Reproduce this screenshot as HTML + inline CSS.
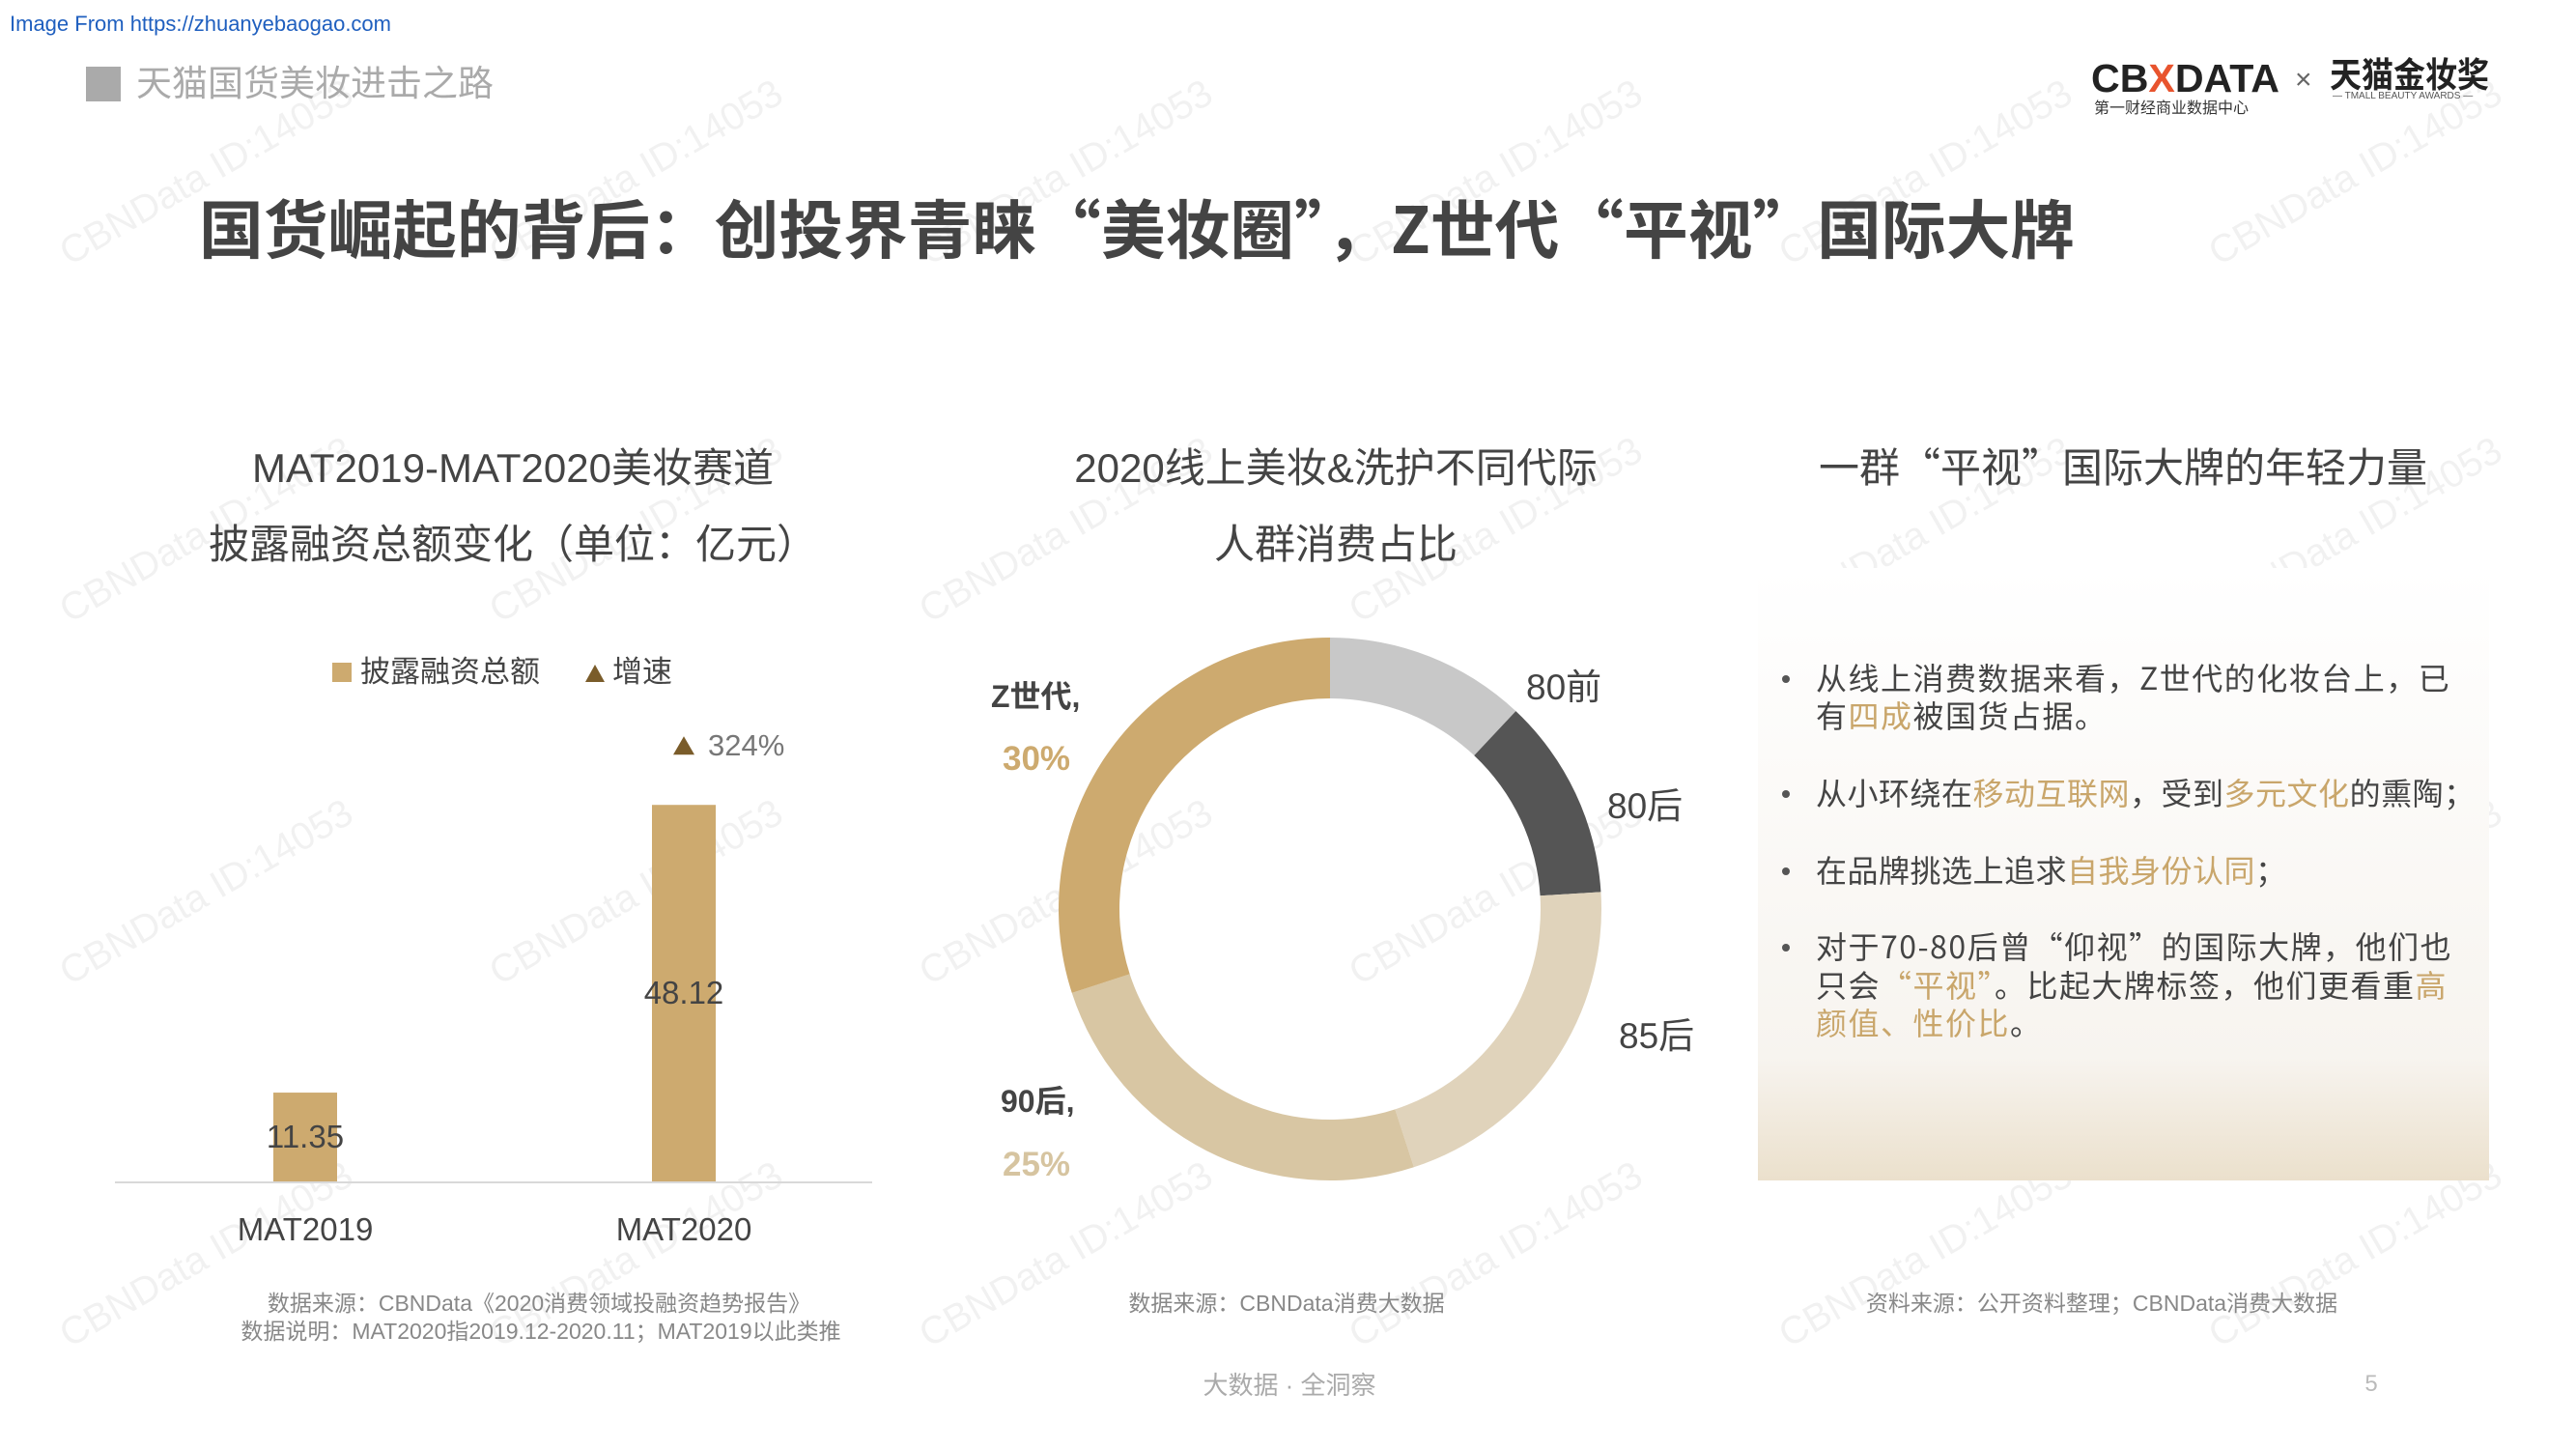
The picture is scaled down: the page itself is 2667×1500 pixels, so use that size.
<!DOCTYPE html>
<html><head><meta charset="utf-8">
<style>
html,body{margin:0;padding:0;background:#fff;}
svg{display:block;font-family:"Liberation Sans","Noto Sans CJK SC",sans-serif;}
.cjk{font-family:"Noto Sans CJK SC","Liberation Sans",sans-serif;}
</style></head>
<body>
<svg id="page" width="2667" height="1500" viewBox="0 0 2667 1500">
<defs>
<linearGradient id="panelGrad" x1="0" y1="0" x2="0" y2="1">
<stop offset="0" stop-color="#ffffff"/>
<stop offset="0.8" stop-color="#f7f4ef"/>
<stop offset="1" stop-color="#ebe0cc"/>
</linearGradient>
</defs>
<g id="watermarks"></g>

<text x="10" y="32" font-size="22" fill="#1f5fbf">Image From https://zhuanyebaogao.com</text>
<rect x="89" y="69" width="36" height="36" fill="#aaaaaa"/>
<text x="141" y="99" font-size="37" fill="#aaaaaa">天猫国货美妆进击之路</text>

<g>
<text x="2165" y="95" font-size="41" font-weight="bold" fill="#222" textLength="195" lengthAdjust="spacingAndGlyphs">CB<tspan fill="#e8542e">X</tspan>DATA</text>
<text x="2168" y="117" font-size="16" fill="#333">第一财经商业数据中心</text>
<text x="2376" y="92" font-size="30" fill="#666">×</text>
<text x="2412" y="90" font-size="36" font-weight="bold" fill="#222" textLength="165" lengthAdjust="spacingAndGlyphs">天猫金妆奖</text>
<text x="2415" y="102" font-size="10" fill="#555">— TMALL BEAUTY AWARDS —</text>
</g>

<text class="cjk" x="206" y="262" font-size="66" font-weight="bold" fill="#444" textLength="1942" lengthAdjust="spacingAndGlyphs">国货崛起的背后：创投界青睐“美妆圈”，Z世代“平视”国际大牌</text>

<g font-size="42" fill="#444" text-anchor="middle">
<text x="531" y="499">MAT2019-MAT2020美妆赛道</text>
<text x="531" y="578">披露融资总额变化（单位：亿元）</text>
<text x="1383" y="499">2020线上美妆&amp;洗护不同代际</text>
<text x="1383" y="578">人群消费占比</text>
<text class="cjk" x="2198" y="499">一群“平视”国际大牌的年轻力量</text>
</g>

<!-- bar chart -->
<g id="barChart">
<g>
<rect x="344" y="686" width="20" height="20" fill="#cdaa6f"/>
<text x="373" y="706" font-size="31" fill="#444">披露融资总额</text>
<path d="M606 706 L616 688 L626 706 Z" fill="#7a5c2a"/>
<text x="634" y="706" font-size="31" fill="#444">增速</text>
</g>
<line x1="119" y1="1224" x2="903" y2="1224" stroke="#d9d9d9" stroke-width="2"/>
<g id="bars"></g>
</g>

<!-- donut -->
<g id="donut"></g>
<g font-size="32">
<text x="1026" y="732" font-weight="bold" fill="#444">Z世代,</text>
<text x="1038" y="797" font-weight="bold" fill="#cdaa6f" font-size="35">30%</text>
<text x="1036" y="1151" font-weight="bold" fill="#444">90后,</text>
<text x="1038" y="1217" font-weight="bold" fill="#d6c4a0" font-size="35">25%</text>
<text x="1580" y="724" font-size="37" fill="#444">80前</text>
<text x="1664" y="847" font-size="37" fill="#444">80后</text>
<text x="1676" y="1085" font-size="37" fill="#444">85后</text>
</g>

<!-- right panel -->
<rect x="1820" y="588" width="757" height="634" fill="url(#panelGrad)"/>
<g class="cjk" font-size="32" fill="#444">
<g>
<circle cx="1849" cy="703" r="4" fill="#555"/>
<text x="1880" y="714" letter-spacing="1.5">从线上消费数据来看，Z世代的化妆台上，已</text>
<text x="1880" y="753" letter-spacing="1.5">有<tspan fill="#c9a66b">四成</tspan>被国货占据。</text>
</g>
<g>
<circle cx="1849" cy="822" r="4" fill="#555"/>
<text x="1880" y="833" letter-spacing="0.5">从小环绕在<tspan fill="#c9a66b">移动互联网</tspan>，受到<tspan fill="#c9a66b">多元文化</tspan>的熏陶；</text>
</g>
<g>
<circle cx="1849" cy="902" r="4" fill="#555"/>
<text x="1880" y="913" letter-spacing="0.5">在品牌挑选上追求<tspan fill="#c9a66b">自我身份认同</tspan>；</text>
</g>
<g>
<circle cx="1849" cy="981" r="4" fill="#555"/>
<text x="1880" y="992" letter-spacing="1.5">对于70-80后曾“仰视”的国际大牌，他们也</text>
<text x="1880" y="1032" letter-spacing="1.5">只会<tspan fill="#c9a66b">“平视”</tspan>。比起大牌标签，他们更看重<tspan fill="#c9a66b">高</tspan></text>
<text x="1880" y="1071" letter-spacing="1.5" fill="#c9a66b">颜值、性价比<tspan fill="#444">。</tspan></text>
</g>
</g>

<g font-size="23" fill="#888" text-anchor="middle">
<text x="558" y="1357">数据来源：CBNData《2020消费领域投融资趋势报告》</text>
<text x="560" y="1386">数据说明：MAT2020指2019.12-2020.11；MAT2019以此类推</text>
<text x="1332" y="1357">数据来源：CBNData消费大数据</text>
<text x="2176" y="1357">资料来源：公开资料整理；CBNData消费大数据</text>
</g>
<text x="1335" y="1443" font-size="26" fill="#aaa" text-anchor="middle">大数据 · 全洞察</text>
<text x="2455" y="1440" font-size="24" fill="#bbb" text-anchor="middle">5</text>
</svg>

<script>
var barCategories = ["MAT2019", "MAT2020"];
var barValues = [11.35, 48.12];
var barValueLabels = ["11.35", "48.12"];
var growthLabels = ["", "324%"];
var donutCategories = ["80前", "80后", "85后", "90后", "Z世代"];
var donutValues = [12, 12, 21, 25, 30];
var donutColors = ["#c8c8c8", "#555555", "#e0d3bb", "#d8c6a3", "#cdaa6f"];

var NS = "http://www.w3.org/2000/svg";
function mk(tag, attrs, parent){
  var e = document.createElementNS(NS, tag);
  for (var k in attrs) { e.setAttribute(k, String(attrs[k])); }
  parent.appendChild(e);
  return e;
}

// watermarks
(function(){
  var g = document.getElementById('watermarks');
  var xs = [220,665,1110,1555,2000,2445], ys = [190,560,935,1310];
  for (var i = 0; i < xs.length; i++) for (var j = 0; j < ys.length; j++) {
    var t = mk('text', {x: xs[i], y: ys[j], 'font-size': 40, 'fill': '#000', 'fill-opacity': 0.055, 'text-anchor': 'middle', transform: 'rotate(-30 ' + xs[i] + ' ' + ys[j] + ')'}, g);
    
    
    t.textContent = 'CBNData ID:14053';
  }
})();

// bar chart
(function(){
  var g = document.getElementById('bars');
  var baseY = 1223, pxPerUnit = 8.1, barW = 66;
  var centers = [316, 708];
  function yScale(v){ return baseY - v * pxPerUnit; }
  for (var i = 0; i < barValues.length; i++) {
    var cx = centers[i];
    var top = yScale(barValues[i]);
    var r = mk('rect', {x: cx - barW/2, y: top, width: barW, height: baseY - top, fill: '#cdaa6f'}, g);
    
    
    var lbl = mk('text', {x: cx, y: yScale(barValues[i]/2) + 11, 'font-size': 33, fill: '#444', 'text-anchor': 'middle'}, g);
    
    
    lbl.textContent = barValueLabels[i];
    var xl = mk('text', {x: cx, y: 1284, 'font-size': 33, fill: '#444', 'text-anchor': 'middle'}, g);
    
    
    xl.textContent = barCategories[i];
    if (growthLabels[i]) {
      var gy = top - 52;
      var tri = mk('path', {d: 'M' + (cx-11) + ' ' + gy + ' L' + cx + ' ' + (gy-19) + ' L' + (cx+11) + ' ' + gy + ' Z', fill: '#7a5c2a'}, g);
      
      
      var gt = mk('text', {x: cx + 25, y: gy + 1, 'font-size': 31, fill: '#777'}, g);
      
      
      gt.textContent = growthLabels[i];
    }
  }
})();

// donut
(function(){
  var g = document.getElementById('donut');
  var cx = 1377, cy = 941, R = 281, r = 218;
  var total = 0;
  for (var t = 0; t < donutValues.length; t++) total += donutValues[t];
  var acc = 0;
  function pt(rad, frac){ var a = frac * 2 * Math.PI; return [cx + rad*Math.sin(a), cy - rad*Math.cos(a)]; }
  for (var i = 0; i < donutValues.length; i++) {
    var f0 = acc / total; acc += donutValues[i]; var f1 = acc / total;
    var large = (f1 - f0) > 0.5 ? 1 : 0;
    var p0 = pt(R, f0), p1 = pt(R, f1), q1 = pt(r, f1), q0 = pt(r, f0);
    var d = 'M' + p0[0] + ' ' + p0[1] + ' A' + R + ' ' + R + ' 0 ' + large + ' 1 ' + p1[0] + ' ' + p1[1] +
            ' L' + q1[0] + ' ' + q1[1] + ' A' + r + ' ' + r + ' 0 ' + large + ' 0 ' + q0[0] + ' ' + q0[1] + ' Z';
    var s = mk('path', {d: d, fill: donutColors[i]}, g);
    
    
  }
})();
</script>
</body></html>
